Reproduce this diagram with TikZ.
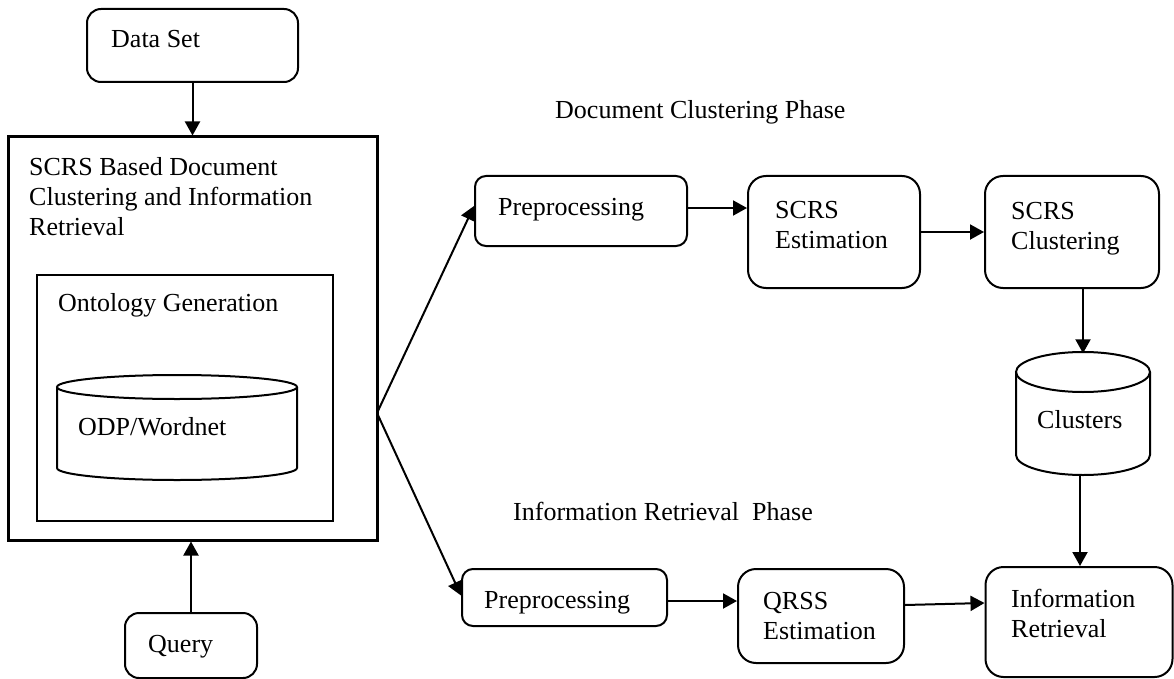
\documentclass[tikz,border=0pt]{standalone}
\usepackage{fontspec}
\setmainfont{Liberation Serif}
\usetikzlibrary{arrows.meta,calc}
\begin{document}
\begin{tikzpicture}[x=1pt,y=-1pt,
  font=\fontsize{26}{30}\selectfont,
  box/.style={draw, rounded corners=14pt, line width=2pt, inner sep=0pt},
  sqbox/.style={draw, inner sep=0pt},
  arr/.style={-{Triangle[length=14pt,width=15pt]}, line width=2pt},
  txt/.style={anchor=base west, inner sep=0pt, align=left},
  cyl/.style={line width=2pt}]
\useasboundingbox (0,0) rectangle (1174,679);

% left column
\node[box, minimum width=211pt, minimum height=73pt] (ds) at (192.5,45.5) {};
\node[txt] (dst) at (111,48) {Data Set};

\node[sqbox, line width=3pt, minimum width=369pt, minimum height=403pt] (big) at (192.5,338.5) {};
\node[txt] (bigt) at (29,235) {SCRS Based Document\\Clustering and Information\\Retrieval};

\node[sqbox, line width=2pt, minimum width=296pt, minimum height=246pt] (ont) at (185,398) {};
\node[txt] (ontt) at (58,311) {Ontology Generation};

\node[inner sep=0pt, minimum width=240pt, minimum height=105pt] (odp) at (177,427.5) {};
\draw[cyl] (57,387) -- (57,468) arc[start angle=180, end angle=360, x radius=120pt, y radius=12pt] -- (297,387);
\draw[cyl] (177,387) ellipse [x radius=120pt, y radius=12pt];
\node[txt] (odpt) at (78,435) {ODP/Wordnet};

\node[box, minimum width=132pt, minimum height=65pt] (q) at (191,645.5) {};
\node[txt] (qt) at (148,652) {Query};

\coordinate (fan) at (377,413);

% phase labels
\node[txt] (ph1) at (555,119) {Document Clustering Phase};
\node[txt] (ph2) at (513,520) {Information Retrieval\ \ Phase};

% top row
\node[box, rounded corners=11pt, minimum width=212pt, minimum height=70pt] (pre1) at (581,211) {};
\node[txt] (pre1t) at (498,215) {Preprocessing};

\node[box, rounded corners=18pt, minimum width=172pt, minimum height=112pt] (est1) at (834,232) {};
\node[txt] (est1t) at (775,248) {SCRS\\Estimation};

\node[box, rounded corners=18pt, minimum width=174pt, minimum height=112pt] (clu) at (1072,232) {};
\node[txt] (clut) at (1011,249) {SCRS\\Clustering};

\node[inner sep=0pt, minimum width=134pt, minimum height=123pt] (clusters) at (1083,413.5) {};
\draw[cyl] (1016,372) -- (1016,455) arc[start angle=180, end angle=360, x radius=67pt, y radius=20pt] -- (1150,372);
\draw[cyl] (1083,372) ellipse [x radius=67pt, y radius=20pt];
\node[txt] (clustt) at (1037,428) {Clusters};

\node[box, rounded corners=18pt, minimum width=187pt, minimum height=110pt] (ir) at (1079,622) {};
\node[txt] (irt) at (1011,637) {Information\\Retrieval};

% bottom row
\node[box, rounded corners=11pt, minimum width=205pt, minimum height=57pt] (pre2) at (564.5,597.5) {};
\node[txt] (pre2t) at (484,608) {Preprocessing};

\node[box, rounded corners=18pt, minimum width=166pt, minimum height=94pt] (qrss) at (821,616) {};
\node[txt] (qrsst) at (763,639) {QRSS\\Estimation};

% connectors
\draw[arr] (ds.south) -- (big.north);
\draw[arr] (q.north) -- (q.north |- big.south);
\draw[arr] (fan) -- ($(pre1.west)+(0,-5)$);
\draw[arr] (fan) -- ($(pre2.west)+(0,-2)$);
\draw[arr] ($(pre1.east)+(0,-3)$) -- ($(pre1.east -| est1.west)+(0,-3)$);
\draw[arr] (est1.east) -- (clu.west);
\draw[arr] (clusters.north |- clu.south) -- ([yshift=-1.5pt]clusters.north);
\draw[arr] ([xshift=-3pt]clusters.south) -- ([xshift=-3pt]clusters.south |- ir.north);
\draw[arr] ($(pre2.east)+(0,3.5)$) -- ($(pre2.east -| qrss.west)+(0,3.5)$);
\draw[arr] ($(qrss.east)+(0,-11)$) -- ($(ir.west)+(0,-19)$);
\end{tikzpicture}
\end{document}
